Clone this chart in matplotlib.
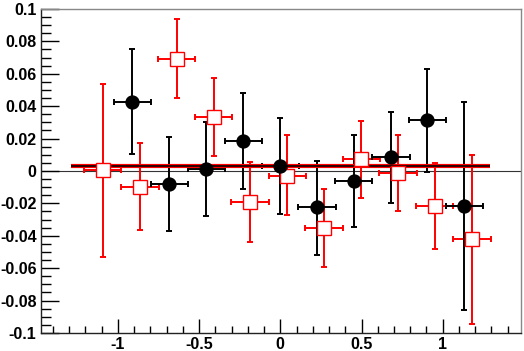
import matplotlib
matplotlib.use("Agg")
import matplotlib.pyplot as plt
from matplotlib.ticker import MultipleLocator, FuncFormatter

# Black filled circles
bx = [-0.911, -0.683, -0.455, -0.228, 0.0, 0.226, 0.451, 0.681, 0.906, 1.134]
by = [0.0428, -0.0082, 0.0012, 0.0187, 0.0030, -0.0224, -0.0060, 0.0086, 0.0313, -0.0218]
by_hi = [0.0753, 0.0210, 0.0300, 0.0480, 0.0330, 0.0064, 0.0222, 0.0366, 0.0630, 0.0424]
by_lo = [0.0105, -0.0368, -0.0276, -0.0110, -0.0265, -0.0519, -0.0348, -0.0196, -0.0008, -0.0858]
bxerr = 0.115

# Red open squares
rx = [-1.094, -0.863, -0.638, -0.410, -0.186, 0.043, 0.269, 0.498, 0.724, 0.950, 1.180]
ry = [0.0005, -0.0099, 0.0693, 0.0335, -0.0190, -0.0030, -0.0354, 0.0076, -0.0012, -0.0216, -0.0422]
ry_hi = [0.0537, 0.0175, 0.0936, 0.0576, 0.0057, 0.0224, -0.0110, 0.0310, 0.0224, 0.0051, 0.0099]
ry_lo = [-0.0529, -0.0364, 0.0450, 0.0094, -0.0438, -0.0272, -0.0594, -0.0165, -0.0247, -0.0481, -0.0944]
rxerr = 0.115

fit_x = [-1.29, 1.29]
fit_y = 0.0030

fig = plt.figure(figsize=(5.24, 3.51), dpi=100)
ax = fig.add_axes([0.0777, 0.0513, 0.9160, 0.9231])
ax.set_xlim(-1.475, 1.48)
ax.set_ylim(-0.1, 0.1)

# zero line
ax.axhline(0, color="#333333", lw=0.8, zorder=1)

r_yerr = [[y - lo for y, lo in zip(ry, ry_lo)], [hi - y for y, hi in zip(ry, ry_hi)]]
ax.errorbar(rx, ry, yerr=r_yerr, xerr=rxerr, fmt="none", ecolor="#ff0000",
            elinewidth=1.4, capsize=2, capthick=1.4, zorder=2)
b_yerr = [[y - lo for y, lo in zip(by, by_lo)], [hi - y for y, hi in zip(by, by_hi)]]
ax.errorbar(bx, by, yerr=b_yerr, xerr=bxerr, fmt="none", ecolor="black",
            elinewidth=1.4, capsize=2, capthick=1.4, zorder=2)

# fit lines
ax.plot(fit_x, [fit_y, fit_y], color="#ff0000", lw=3.0, solid_capstyle="butt", zorder=3)
ax.plot(fit_x, [fit_y, fit_y], color="#300000", lw=1.4, solid_capstyle="butt", zorder=3)

ax.plot(rx, ry, ls="none", marker="s", ms=9.5, mfc="white", mec="#ff0000", mew=1.0, zorder=4)
ax.plot(bx, by, ls="none", marker="o", ms=9.3, mfc="black", mec="black", zorder=5)

ax.xaxis.set_major_locator(MultipleLocator(0.5))
ax.xaxis.set_minor_locator(MultipleLocator(0.1))
ax.yaxis.set_major_locator(MultipleLocator(0.02))
ax.yaxis.set_minor_locator(MultipleLocator(0.005))

def fmt(v, pos):
    s = f"{v:.2f}".rstrip("0").rstrip(".")
    if s in ("-0", "0"):
        return "0"
    return s

ax.xaxis.set_major_formatter(FuncFormatter(fmt))
ax.yaxis.set_major_formatter(FuncFormatter(fmt))

ax.tick_params(axis="both", which="both", direction="in", top=False, right=False)
ax.tick_params(axis="y", which="major", length=13, width=1, pad=3)
ax.tick_params(axis="y", which="minor", length=7, width=1)
ax.tick_params(axis="x", which="major", length=10, width=1, pad=3)
ax.tick_params(axis="x", which="minor", length=5, width=1)

for lab in ax.get_xticklabels() + ax.get_yticklabels():
    lab.set_fontfamily("Liberation Sans")
    lab.set_fontweight("bold")
    lab.set_fontsize(11.5)

for s in ("top", "right"):
    ax.spines[s].set_color("#888888")
    ax.spines[s].set_linewidth(1.0)
for s in ("left", "bottom"):
    ax.spines[s].set_color("#222222")
    ax.spines[s].set_linewidth(1.0)

fig.savefig("out.png", dpi=100)
